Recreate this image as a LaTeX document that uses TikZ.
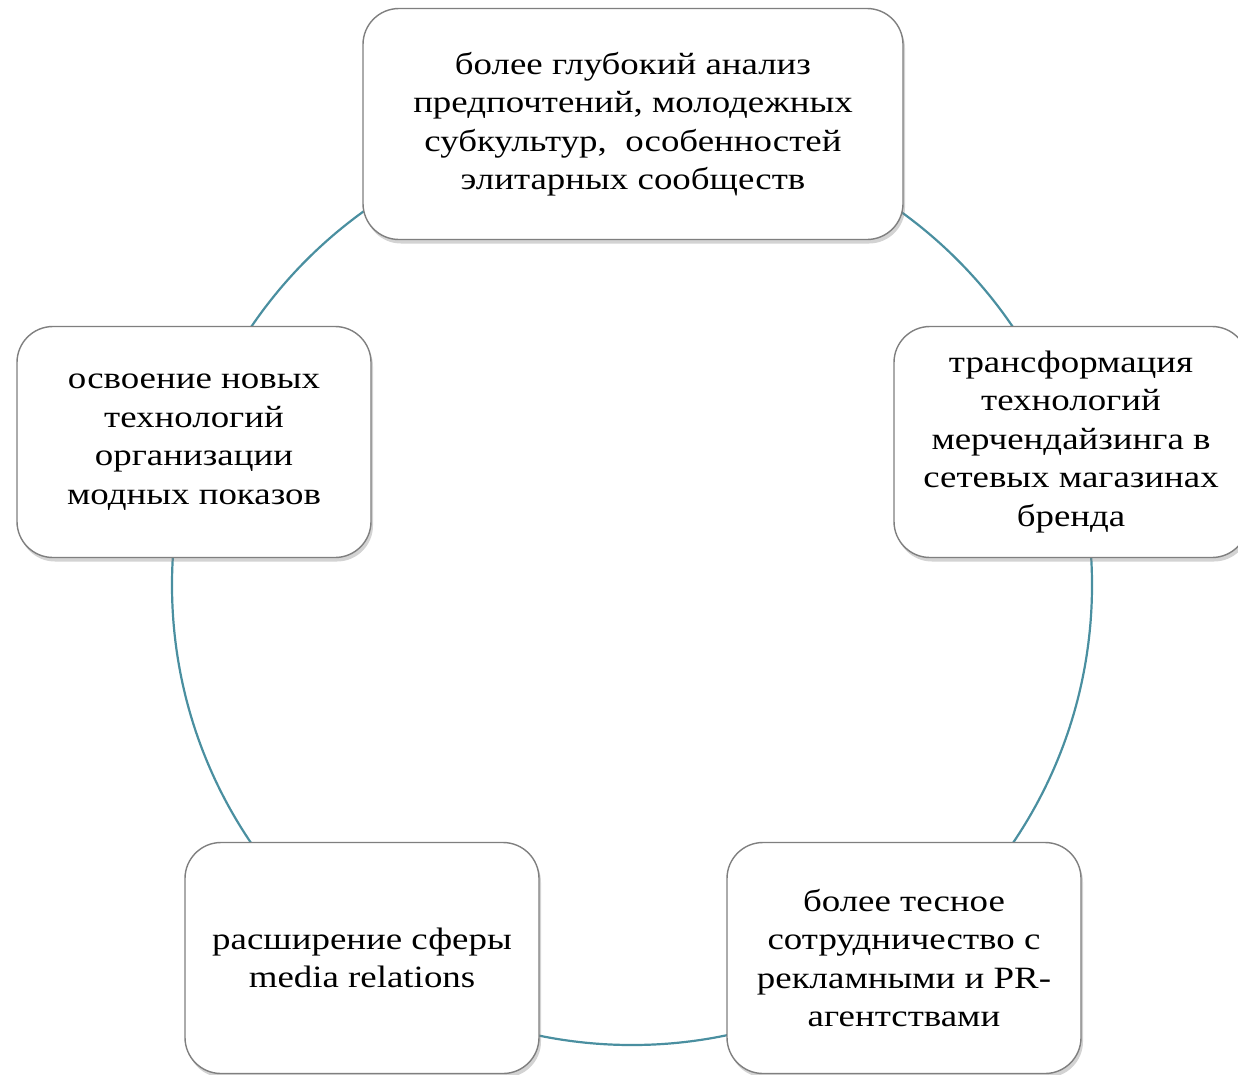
\documentclass[tikz,border=0pt]{standalone}
\usepackage{fontspec}
\setmainfont{Liberation Serif}[FakeStretch=1.19]
\usetikzlibrary{shadows}
\definecolor{ringcol}{HTML}{4A8FA0}
\definecolor{boxline}{HTML}{7F7F7F}
\tikzset{
  cycbox/.style={draw=boxline, line width=1.4pt, fill=white, rounded corners=36pt,
    minimum height=231pt, align=center, inner sep=0pt,
    font=\fontsize{31}{38.5}\selectfont,
    drop shadow={opacity=0.35, shadow xshift=2pt, shadow yshift=-4pt}},
  ring/.style={draw=ringcol, line width=2.2pt}
}
\begin{document}
\begin{tikzpicture}[x=1pt,y=-1pt]
\useasboundingbox (0,0) rectangle (1238,1074);
\coordinate (c) at (632,585);
\draw[ring] (c) circle[radius=460pt];
\node[cycbox, minimum width=540pt] (top) at (633,124)
  {более глубокий анализ\\предпочтений, молодежных\\субкультур,\ \ особенностей\\элитарных сообществ};
\node[cycbox, minimum width=354pt] (right) at (1071,442)
  {трансформация\\технологий\\мерчендайзинга в\\сетевых магазинах\\бренда};
\node[cycbox, minimum width=354pt] (left) at (194,442)
  {освоение новых\\технологий\\организации\\модных показов};
\node[cycbox, minimum width=354pt] (bl) at (362,958)
  {расширение сферы\\media relations};
\node[cycbox, minimum width=354pt] (br) at (904,958)
  {более тесное\\сотрудничество с\\рекламными и PR-\\агентствами};
\end{tikzpicture}
\end{document}
